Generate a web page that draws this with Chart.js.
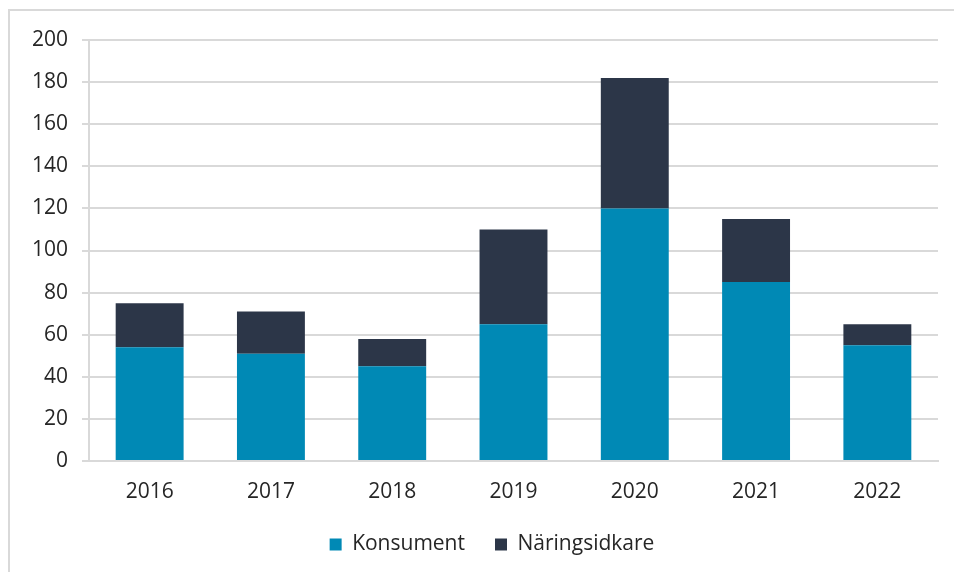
<!DOCTYPE html>
<html>
<head>
<meta charset="utf-8">
<script src="https://cdn.jsdelivr.net/npm/chart.js@4"></script>
<style>
  html, body { margin: 0; padding: 0; background: #fff; overflow: hidden; }
  .frame { position: absolute; left: 8px; top: 9px; width: 1000px; height: 700px;
           border-left: 2px solid #d9d9d9; border-top: 2px solid #d9d9d9; }
  .wrap { position: absolute; left: 0; top: 0; width: 954px; height: 572px; }
</style>
</head>
<body>
<div class="frame"></div>
<div class="wrap"><canvas id="chart" width="954" height="572"></canvas></div>
<script>
// data
const years = ['2016', '2017', '2018', '2019', '2020', '2021', '2022'];
const konsument = [54, 51, 45, 65, 120, 85, 55];
const naringsidkare = [21, 20, 13, 45, 62, 30, 10];
const yTicks = [0, 20, 40, 60, 80, 100, 120, 140, 160, 180, 200];

const textColor = '#262626';
const gridColor = '#d9d9d9';
const font = { family: "'Open Sans', sans-serif", size: 21 };

// nudge legend so it sits under the plot like the original
const legendShift = {
  id: 'legendShift',
  afterLayout(chart) {
    const lg = chart.legend;
    if (lg) {
      lg.left += 23;
      lg.right += 23;
      lg.top -= 7;
      lg.bottom -= 7;
    }
  }
};

new Chart(document.getElementById('chart'), {
  type: 'bar',
  data: {
    labels: years,
    datasets: [
      { label: 'Konsument', data: konsument, backgroundColor: '#0089b5' },
      { label: 'Näringsidkare', data: naringsidkare, backgroundColor: '#2c3648' }
    ]
  },
  plugins: [legendShift],
  options: {
    responsive: false,
    animation: false,
    devicePixelRatio: 1,
    layout: { padding: { left: 0, right: 16, top: 40, bottom: 0 } },
    datasets: { bar: { categoryPercentage: 1, barPercentage: 0.56 } },
    plugins: {
      tooltip: { enabled: false },
      legend: {
        position: 'bottom',
        labels: {
          color: textColor, font: font,
          boxWidth: 12, boxHeight: 12, padding: 30
        }
      }
    },
    scales: {
      x: {
        stacked: true,
        grid: { display: false },
        border: { display: true, color: gridColor, width: 2 },
        ticks: { color: textColor, font: font, padding: 10 },
        afterFit: (s) => { s.height = 50; }
      },
      y: {
        stacked: true,
        min: 0, max: 200,
        afterBuildTicks: (s) => { s.ticks = yTicks.map(v => ({ value: v })); },
        grid: { color: gridColor, lineWidth: 2, tickLength: 7 },
        border: { display: true, color: gridColor, width: 2 },
        ticks: { color: textColor, font: font, padding: 14 },
        afterFit: (s) => { s.width = 89; }
      }
    }
  }
});
</script>
</body>
</html>
